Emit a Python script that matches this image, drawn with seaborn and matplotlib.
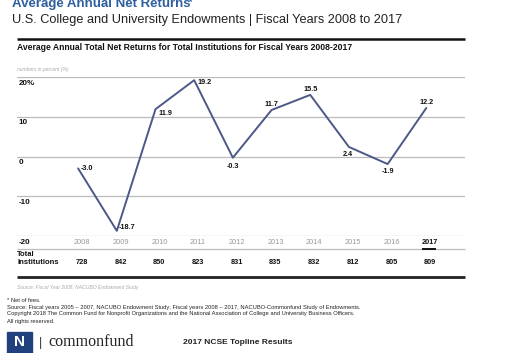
import numpy as np
import pandas as pd
import matplotlib.pyplot as plt
import seaborn as sns
from matplotlib.lines import Line2D
from matplotlib.patches import Rectangle
from matplotlib.transforms import blended_transform_factory

years = [2008, 2009, 2010, 2011, 2012, 2013, 2014, 2015, 2016, 2017]
returns = [-3.0, -18.7, 11.9, 19.2, -0.3, 11.7, 15.5, 2.4, -1.9, 12.2]
institutions = [728, 842, 850, 823, 831, 835, 832, 812, 805, 809]
y_ticks = [20, 10, 0, -10, -20]
y_tick_labels = ['20%', '10', '0', '-10', '-20']

df = pd.DataFrame({'year': years, 'ret': returns})

sns.set_style('white')
plt.rcParams['font.family'] = ['Liberation Sans', 'DejaVu Sans']
NARROW = ['Liberation Sans Narrow', 'Liberation Sans', 'DejaVu Sans']

W, H = 529, 353
fig = plt.figure(figsize=(W / 100, H / 100), dpi=100)


def fx(px):
    return px / W


def fy(px):
    return 1 - px / H


def hline(x0, x1, y, color, lw):
    fig.add_artist(Line2D([fx(x0), fx(x1)], [fy(y), fy(y)], color=color, lw=lw,
                          transform=fig.transFigure, solid_capstyle='butt'))


# headings (the main title is cropped at the top edge, as in the original slide)
fig.text(fx(12), fy(6.5), 'Average Annual Net Returns', color='#2d5e9e', fontsize=9.5,
         fontweight='bold', va='baseline', ha='left')
fig.text(fx(189), fy(3.5), '*', color='#2d5e9e', fontsize=6, fontweight='bold', va='baseline')
fig.text(fx(12), fy(20), 'U.S. College and University Endowments | Fiscal Years 2008 to 2017',
         fontsize=9.2, color='#222222', va='center', ha='left')

hline(17, 465, 39, '#111111', 1.8)
fig.text(fx(17), fy(48), 'Average Annual Total Net Returns for Total Institutions for Fiscal Years 2008-2017',
         fontsize=6.2, fontweight='bold', va='center', ha='left', color='#111111')
fig.text(fx(17), fy(69), 'numbers in percent (%)', fontsize=3.6, style='italic',
         color='#aaaaaa', va='center', ha='left')

# plot area: 20 at y=77px, -20 at y=236px
ax = fig.add_axes([fx(17), fy(236), fx(465) - fx(17), fy(77) - fy(236)])
for yv in y_ticks:
    ax.axhline(yv, color='#bbbbbb', lw=0.9, zorder=0)
sns.lineplot(data=df, x='year', y='ret', ax=ax, color='#4b5888', lw=1.4)
ax.set_xlim(2006.42, 2018.0)
ax.set_ylim(-20, 20)
ax.axis('off')

for yv, lab in zip(y_ticks, y_tick_labels):
    ax.text(2006.46, yv - 1.55, lab, fontsize=5.8, fontweight='bold', family=NARROW,
            va='center', ha='left', color='#111111')

# data labels: (dx, dy) in points, ha
offsets = {
    2008: (2, 0, 'left'), 2009: (1.5, 2.5, 'left'), 2010: (2.5, -3.2, 'left'),
    2011: (2.5, -1.5, 'left'), 2012: (0, -6, 'center'), 2013: (0, 3.8, 'center'),
    2014: (0, 4, 'center'), 2015: (-1, -5.5, 'center'), 2016: (0, -5.5, 'center'),
    2017: (0, 3.8, 'center'),
}
for yr, val in zip(years, returns):
    dx, dy, ha = offsets[yr]
    ax.annotate(f'{val:.1f}', (yr, val), xytext=(dx, dy), textcoords='offset points',
                fontsize=5.2, fontweight='bold', family=NARROW, ha=ha, va='center',
                color='#111111')

# table below the axis
tr = blended_transform_factory(ax.transData, fig.transFigure)
for yr, n in zip(years, institutions):
    xl = yr + 0.1
    if yr == 2017:
        ax.text(xl, fy(242), str(yr), transform=tr, fontsize=5.3, fontweight='bold',
                family=NARROW, ha='center', va='center', color='#111111')
    else:
        ax.text(xl, fy(242), str(yr), transform=tr, fontsize=5.3, family=NARROW,
                ha='center', va='center', color='#999999')
    ax.text(xl, fy(262), str(n), transform=tr, fontsize=5.3, fontweight='bold',
            family=NARROW, ha='center', va='center', color='#111111')

hline(17, 465, 249, '#bbbbbb', 0.9)
hline(422, 436, 248.5, '#111111', 1.4)
fig.text(fx(17), fy(254), 'Total', fontsize=5.5, fontweight='bold', family=NARROW,
         va='center', ha='left', color='#111111')
fig.text(fx(17), fy(262), 'Institutions', fontsize=5.5, fontweight='bold', family=NARROW,
         va='center', ha='left', color='#111111')
hline(17, 465, 277, '#222222', 2.0)
fig.text(fx(17), fy(287), 'Source: Fiscal Year 2008, NACUBO Endowment Study', fontsize=3.6,
         style='italic', color='#aaaaaa', va='center', ha='left')

# footnotes
notes = [
    '* Net of fees.',
    'Source: Fiscal years 2005 \u2013 2007, NACUBO Endowment Study; Fiscal years 2008 \u2013 2017, '
    'NACUBO-Commonfund Study of Endowments.',
    'Copyright 2018 The Common Fund for Nonprofit Organizations and the National Association '
    'of College and University Business Officers.',
    'All rights reserved.',
]
for i, t in enumerate(notes):
    fig.text(fx(7), fy(300 + 7 * i), t, fontsize=4.15, color='#222222', va='center', ha='left')

# footer logos
fig.add_artist(Rectangle((fx(7), fy(353)), fx(25), fy(332) - fy(353), color='#21407e',
                         transform=fig.transFigure))
fig.text(fx(19.5), fy(342), 'N', fontsize=11, fontweight='bold', color='white',
         ha='center', va='center')
fig.text(fx(40), fy(343), '|', fontsize=9, color='#333333', ha='center', va='center')
fig.text(fx(48), fy(342), 'commonfund', fontsize=11.5, family=['Liberation Serif', 'DejaVu Serif'],
         color='#222222', ha='left', va='center')
fig.text(fx(183), fy(343), '2017 NCSE Topline Results', fontsize=6, fontweight='bold',
         color='#222222', ha='left', va='center')

fig.savefig('out.png', dpi=100)
